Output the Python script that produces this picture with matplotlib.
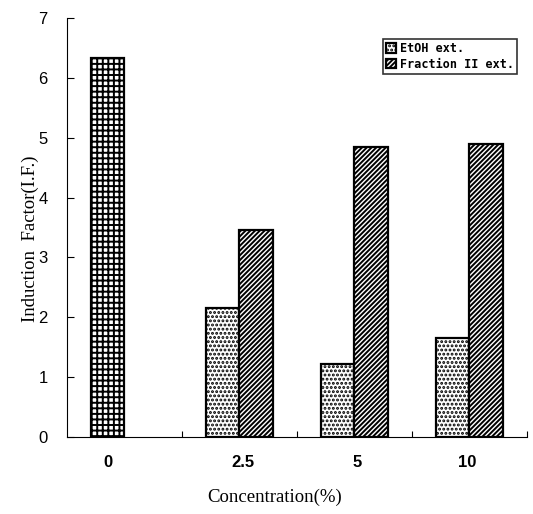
import matplotlib.pyplot as plt
import numpy as np

plt.rcParams['hatch.linewidth'] = 1.4

categories = ['0', '2.5', '5', '10']
control_value = 6.33
etoh_values = [2.16, 1.22, 1.66]
fraction_values = [3.46, 4.85, 4.89]

fig = plt.figure(figsize=(5.33, 5.14), dpi=100)
ax = fig.add_axes([0.1257, 0.1498, 0.8630, 0.8152])

w = 0.29
x = np.arange(len(categories))

# control bar sits at the first-series slot
ax.bar(x[0] - w / 2, control_value, w, facecolor='white', edgecolor='black',
       hatch='+++', linewidth=1.6)
ax.bar(x[1:] - w / 2, etoh_values, w, facecolor='white', edgecolor='black',
       hatch='....', linewidth=1.6, label='EtOH ext.')
ax.bar(x[1:] + w / 2, fraction_values, w, facecolor='white', edgecolor='black',
       hatch='///////', linewidth=1.6, label='Fraction II ext.')

ax.set_xlim(-0.5, 3.5)
ax.set_ylim(0, 7)
ax.set_yticks(range(8))
ax.tick_params(axis='y', direction='in', length=5, labelsize=12, pad=14)
ax.set_xticks([0.5, 1.5, 2.5, 3.5])
ax.set_xticklabels([])
ax.tick_params(axis='x', direction='in', length=4)
for lbl in ax.get_yticklabels():
    lbl.set_fontfamily('Liberation Sans')

label_pos = [x[0] - w / 2, 1.03, 2.02, 2.98]
for pos, txt in zip(label_pos, categories):
    ax.text(pos, -0.42, txt, ha='center', va='center', fontsize=12,
            fontfamily='Liberation Sans', fontweight='bold')

ax.spines['top'].set_visible(False)
ax.spines['right'].set_visible(False)

fig.text(0.516, 0.033, 'Concentration(%)', ha='center', va='center',
         fontsize=13.5, fontfamily='Liberation Serif')
fig.text(0.056, 0.535, 'Induction  Factor(I.F.)', ha='center', va='center',
         rotation=90, fontsize=13.5, fontfamily='Liberation Serif')

leg = ax.legend(loc='upper right', bbox_to_anchor=(0.978, 0.949),
                prop={'family': 'DejaVu Sans Mono', 'size': 8.5, 'weight': 'bold'},
                frameon=True, fancybox=False, edgecolor='black',
                handlelength=0.9, handleheight=0.9, handletextpad=0.3,
                borderpad=0.25, labelspacing=0.2, borderaxespad=0)
leg.get_frame().set_linewidth(1.2)

plt.savefig('out.png', dpi=100)
